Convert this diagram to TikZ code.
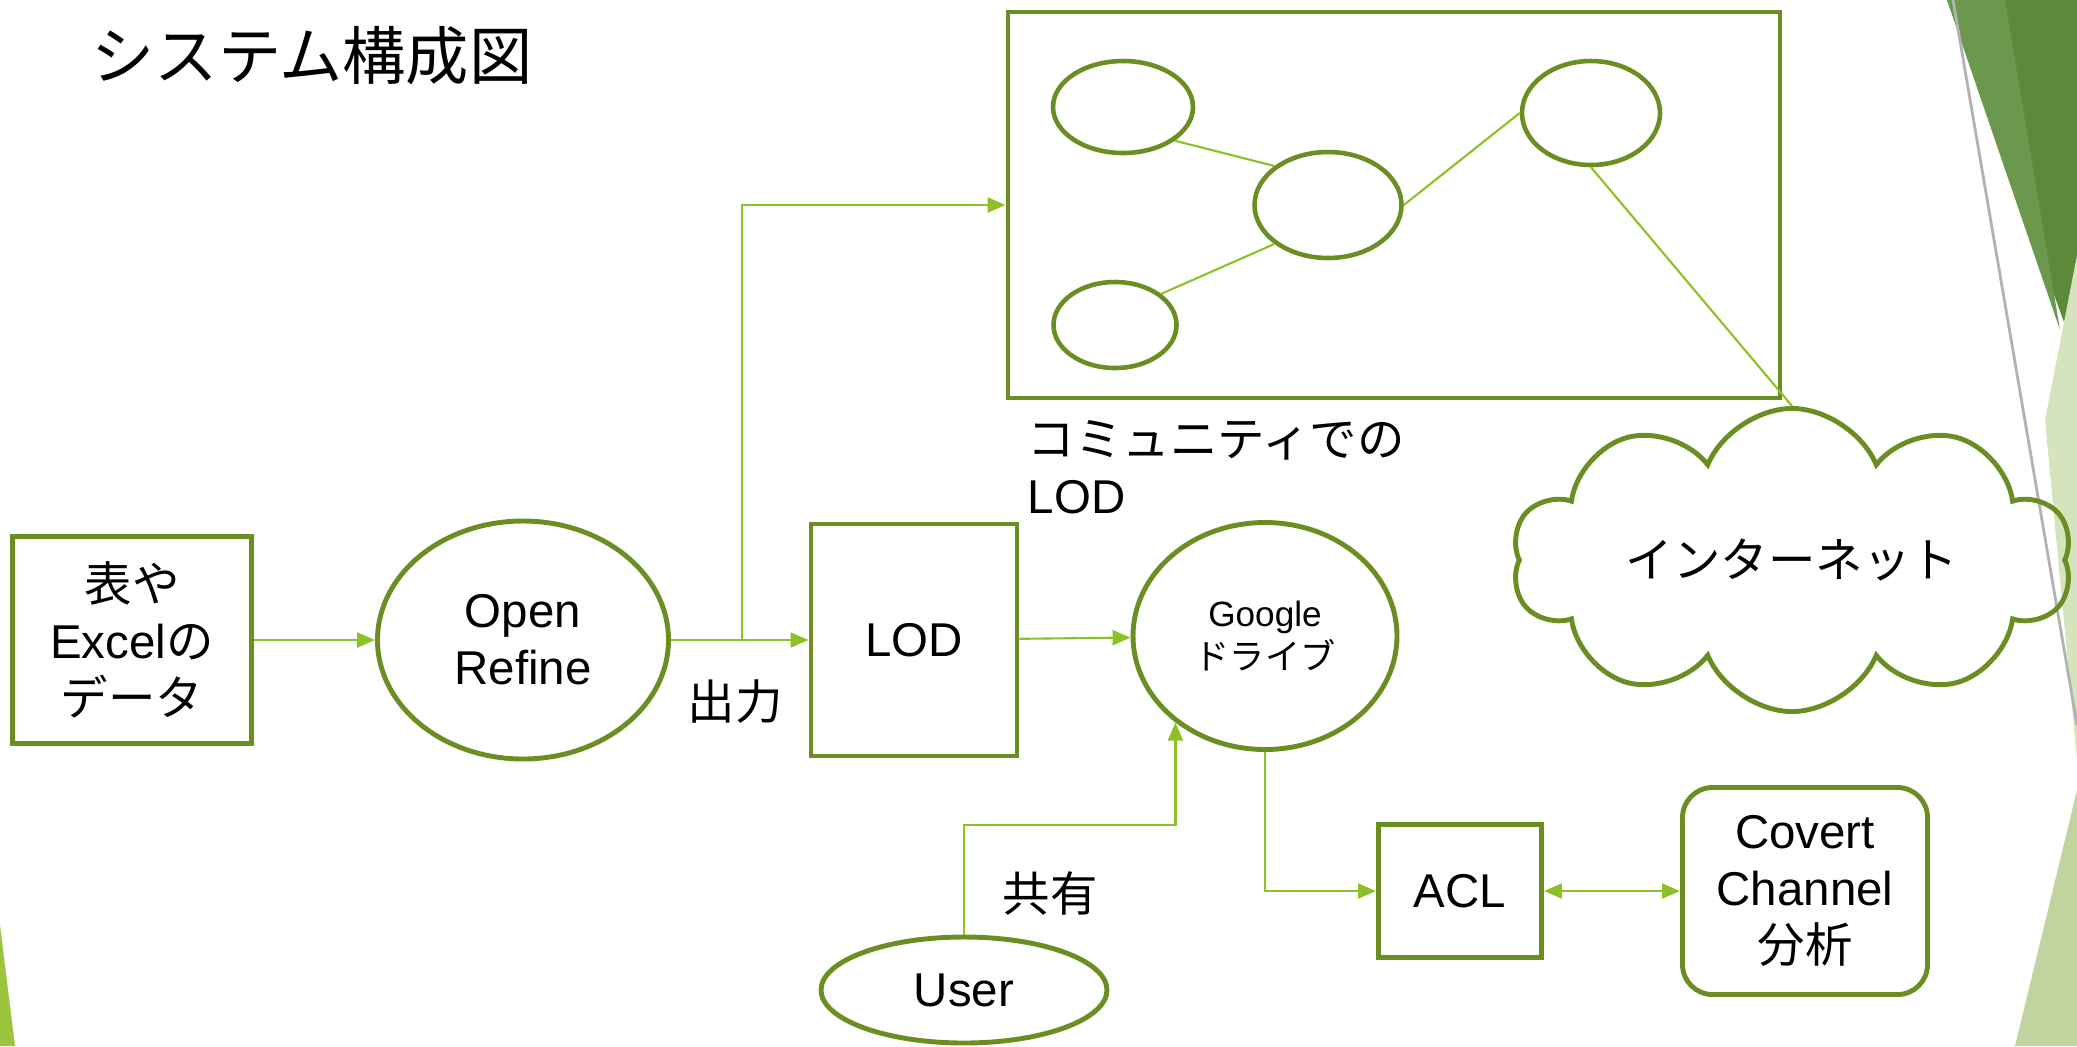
\documentclass[tikz,border=0pt]{standalone}
\usepackage{fontspec}
\setmainfont{Liberation Sans}
\newfontfamily\jp{Noto Sans CJK JP}
\usetikzlibrary{shapes.geometric,shapes.symbols}
\usetikzlibrary{arrows.meta}

\definecolor{leaf}{RGB}{107,142,35}
\definecolor{sprout}{RGB}{141,194,38}
\definecolor{forest}{RGB}{93,137,59}
\definecolor{moss}{RGB}{106,152,76}
\definecolor{pale}{RGB}{214,228,190}
\definecolor{lime}{RGB}{155,197,61}

\begin{document}
\begin{tikzpicture}
[x=0.1mm,y=-0.1mm,
font=\fontsize{13.5}{16.2}\selectfont,
box/.style ={rectangle, draw=leaf, line width=1.4pt,
align=center, inner sep=0pt},
oval/.style ={ellipse, draw=leaf, line width=1.4pt,
align=center, inner sep=0pt},
dot/.style ={ellipse, draw=leaf, line width=1.3pt, inner sep=0pt},
link/.style ={draw=sprout, line width=0.6pt},
line/.style ={draw=sprout, line width=0.6pt,
-{Triangle[length=1.8mm,width=1.5mm]}},
both/.style ={line, {Triangle[length=1.8mm,width=1.5mm]}-{Triangle[length=1.8mm,width=1.5mm]}}]
\useasboundingbox (0,0) rectangle (2077,1046);
\clip (0,0) rectangle (2077,1046);

% slide decoration
\fill[forest] (1947,0) -- (2077,0) -- (2077,358) -- cycle;
\fill[moss] (1947,0) -- (2005,0) -- (2060,330) -- cycle;
\fill[pale] (2077,255) -- (2045,420) -- (2077,760) -- cycle;
\fill[pale!80!leaf] (2077,790) -- (2077,1046) -- (2015,1046) -- cycle;
\draw[black!30, line width=0.8pt] (1953,0) -- (2077,725);
\fill[lime] (0,925) -- (15,1046) -- (0,1046) -- cycle;

\node (title) at (312,56) {\jp\fontsize{18}{20}\selectfont システム構成図};

% data flow
\node [box, minimum width=23.9mm, minimum height=20.7mm] (table) at (132,640)
  {{\jp 表や}\\Excel{\jp の}\\{\jp データ}};
\node [oval, minimum width=29.1mm, minimum height=23.8mm] (refine) at (523,640) {Open\\Refine};
\node (output) at (735,702) {\jp 出力};
\node [box, minimum width=20.6mm, minimum height=23.2mm] (lod) at (914,640) {LOD};
\node [oval, minimum width=26.4mm, minimum height=22.7mm,
  font=\fontsize{10}{12.5}\selectfont] (gdrive) at (1265,636) {Google\\{\jp ドライブ}};

% community graph
\node [box, minimum width=77.2mm, minimum height=38.6mm] (graph) at (1394,205) {};
\node [dot, minimum width=14mm, minimum height=9.2mm] (n1) at (1123,107) {};
\node [dot, minimum width=14.7mm, minimum height=10.6mm] (n2) at (1328,205) {};
\node [dot, minimum width=12.3mm, minimum height=8.6mm] (n3) at (1115,325) {};
\node [dot, minimum width=13.8mm, minimum height=10.4mm] (n4) at (1591,113) {};
\node [anchor=west, align=left, inner sep=0pt] (community) at (1027,467)
  {{\jp コミュニティでの}\\LOD};
\node [cloud, draw=leaf, line width=1.4pt, cloud puffs=10, cloud puff arc=135, aspect=2.4,
  minimum width=56mm, minimum height=21.5mm] (net) at (1792,560) {\jp インターネット};

% sharing and access control
\node [oval, minimum width=28.6mm, minimum height=10.6mm] (user) at (964,990) {User};
\node (share) at (1050,893) {\jp 共有};
\node [box, minimum width=16.3mm, minimum height=13.3mm] (acl) at (1460,891) {ACL};
\node [box, rounded corners=3mm, minimum width=24.5mm, minimum height=20.7mm] (covert) at (1805,891)
  {Covert\\Channel\\{\jp 分析}};
\coordinate (fork) at (742,640);
\coordinate (bend) at (0,825);

\begin{scope}[every path/.style=line]
\path (table) -- (refine);
\path (refine) -- (lod);
\path (fork) |- (graph.west);
\path (lod) -- (gdrive);
\path (user.north) -- (user.north |- bend) -| (gdrive.224);
\path (gdrive.south) |- (acl);
\end{scope}
\path [both] (acl) -- (covert);
\begin{scope}[every path/.style=link]
\path (n1.-33) -- (n2.144);
\path (n3.34) -- (n2.216);
\path (n2.east) -- (n4.west);
\path (n4.south) -- (net.north);
\end{scope}
\end{tikzpicture}
\end{document}
